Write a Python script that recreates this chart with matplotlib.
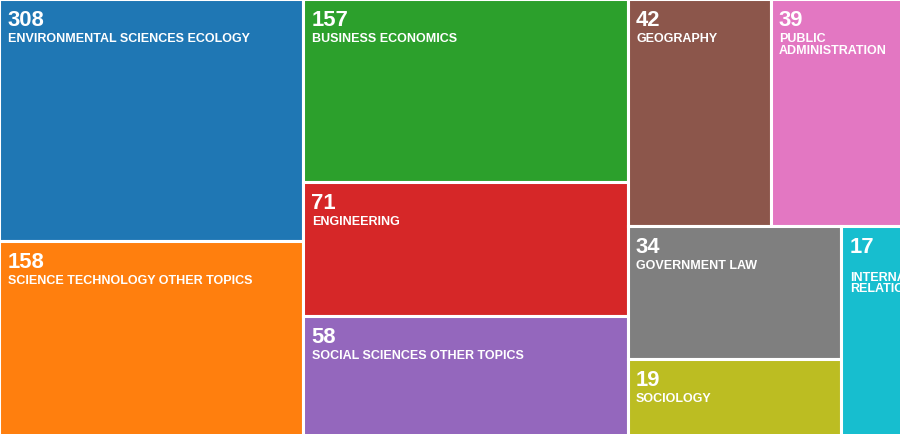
import matplotlib
matplotlib.use("Agg")
import matplotlib.pyplot as plt
from matplotlib.patches import Rectangle

categories = ["ENVIRONMENTAL SCIENCES ECOLOGY", "SCIENCE TECHNOLOGY OTHER TOPICS",
              "BUSINESS ECONOMICS", "ENGINEERING", "SOCIAL SCIENCES OTHER TOPICS",
              "GEOGRAPHY", "PUBLIC\nADMINISTRATION", "GOVERNMENT LAW", "SOCIOLOGY",
              "\nINTERNATIONAL\nRELATIONS"]
values = [308, 158, 157, 71, 58, 42, 39, 34, 19, 17]
# tile size metric, read off the picture's tile areas (not proportional to the counts)
areas = [186, 151, 150, 110, 99, 82, 76, 72, 42, 33]
colors = ["#1f77b4", "#ff7f0e", "#2ca02c", "#d62728", "#9467bd",
          "#8c564b", "#e377c2", "#7f7f7f", "#bcbd22", "#17becf"]

# nested slice layout: 'x' splits side by side, 'y' stacks vertically
tree = ("x", [("y", [0, 1]), ("y", [2, 3, 4]),
              ("y", [("x", [5, 6]), ("x", [("y", [7, 8]), 9])])])

def weight(node):
    if isinstance(node, int):
        return areas[node]
    return sum(weight(c) for c in node[1])

rects = {}
def layout(node, x, y, w, h):
    if isinstance(node, int):
        rects[node] = (x, y, w, h)
        return
    d, kids = node
    tot = sum(weight(k) for k in kids)
    pos = 0.0
    for k in kids:
        f = weight(k) / tot
        if d == "x":
            layout(k, x + pos * w, y, f * w, h)
        else:
            layout(k, x, y + pos * h, w, f * h)
        pos += f

W, H, G = 900, 434, 3
layout(tree, -0.8, -0.8, W + 3.8, H + 3.8)

fig = plt.figure(figsize=(9, 4.34), dpi=100)
ax = fig.add_axes([0, 0, 1, 1])
ax.set_xlim(0, W)
ax.set_ylim(H, 0)
ax.axis("off")

for i in range(len(values)):
    x, y, w, h = rects[i]
    ax.add_patch(Rectangle((x, y), w, h, facecolor=colors[i],
                           edgecolor="white", linewidth=2.2))
    left = x + G / 2
    top = y + G / 2
    ax.text(left + 6.5, top + 9.5, str(values[i]), color="white",
            fontsize=15.8, fontweight="bold", family="Liberation Sans",
            va="top", ha="left")
    ax.text(left + 7, top + 32.5, categories[i], color="white",
            fontsize=9.0, fontweight="bold", family="Liberation Sans",
            va="top", ha="left", linespacing=0.95)

fig.savefig("out.png", dpi=100)
